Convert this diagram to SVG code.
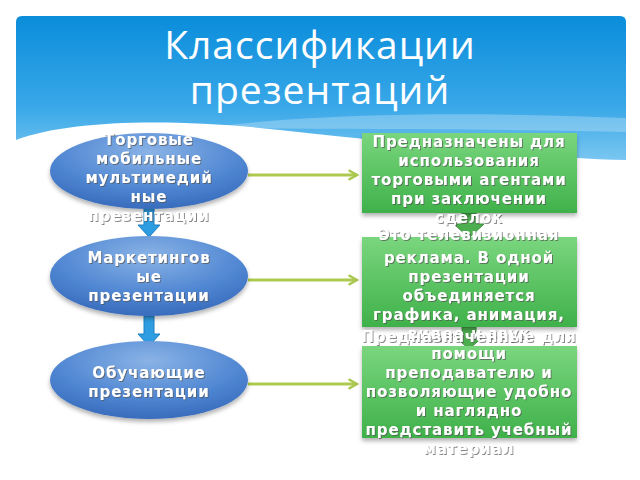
<svg xmlns="http://www.w3.org/2000/svg" width="640" height="480" viewBox="0 0 640 480">
<defs>
<linearGradient id="sky" x1="0" y1="0" x2="0" y2="1">
<stop offset="0" stop-color="#0a8ddb"/>
<stop offset="0.6" stop-color="#3aa8e8"/>
<stop offset="1" stop-color="#86ccf2"/>
</linearGradient>
<radialGradient id="ell" cx="0.5" cy="0.25" r="0.8">
<stop offset="0" stop-color="#8ab3e6"/>
<stop offset="0.6" stop-color="#4f86d2"/>
<stop offset="1" stop-color="#3467b8"/>
</radialGradient>
<linearGradient id="grn" x1="0" y1="0" x2="0" y2="1">
<stop offset="0" stop-color="#7ad67e"/>
<stop offset="1" stop-color="#3fb14a"/>
</linearGradient>
<marker id="ah" viewBox="0 0 10 10" refX="8" refY="5" markerWidth="4" markerHeight="4" orient="auto">
<path d="M1,1 L8,5 L1,9" fill="none" stroke="#a9c74f" stroke-width="2"/>
</marker>
<filter id="sh" x="-20%" y="-20%" width="140%" height="150%">
<feDropShadow dx="0" dy="3" stdDeviation="2" flood-color="#000" flood-opacity="0.3"/>
</filter>
<filter id="ts" x="-10%" y="-30%" width="120%" height="160%">
<feDropShadow dx="1" dy="1" stdDeviation="0.6" flood-color="#555" flood-opacity="0.7"/>
</filter>
</defs>
<style>
.title{font-family:"Open Sans","DejaVu Sans",sans-serif;font-size:39px;fill:#fff;text-anchor:middle;letter-spacing:1px}
.t{font-family:"DejaVu Sans","Noto Sans",sans-serif;font-weight:bold;font-size:15px;fill:#fff;text-anchor:middle;letter-spacing:0.9px}
.con{stroke:#aec94f;stroke-width:3;fill:none}
.barr{fill:#2f9de2;stroke:#1e7fc0;stroke-width:1}
.garr{fill:#4cae4f;stroke:#3c8f3e;stroke-width:1}
</style>
<rect width="640" height="480" fill="#fff"/>
<path d="M22,16 H620 Q626,16 626,22 V170 H16 V22 Q16,16 22,16 Z" fill="url(#sky)"/>
<path d="M200,128 C330,112 480,112 626,118 V132 C480,128 330,130 200,128 Z" fill="#fff" opacity="0.25"/>
<path d="M16,140 C70,120 170,118 280,130 C420,145 540,158 626,160 V175 H16 Z" fill="#fff"/>
<text class="title" x="320" y="59">Классификации</text>
<text class="title" x="320" y="104">презентаций</text>

<g id="connectors">
<line class="con" x1="248" y1="175" x2="357" y2="175" marker-end="url(#ah)"/>
<line class="con" x1="248" y1="280" x2="357" y2="280" marker-end="url(#ah)"/>
<line class="con" x1="248" y1="384" x2="357" y2="384" marker-end="url(#ah)"/>
<path class="barr" d="M144,208 H154 V225 H160 L149,237 L138,225 H144 Z"/>
<path class="barr" d="M144,316 H154 V334 H160 L149,346 L138,334 H144 Z"/>
<path class="garr" d="M462,213 H476 V224 H484 L469,238 L454,224 H462 Z"/>
<path class="garr" d="M462,327 H476 V336 H484 L469,349 L454,336 H462 Z"/>
</g>

<g id="n1">
<ellipse cx="149" cy="171" rx="99" ry="38" fill="url(#ell)" filter="url(#sh)"/>
<g filter="url(#ts)">
<text class="t" x="149" y="145">Торговые</text>
<text class="t" x="149" y="164">мобильные</text>
<text class="t" x="149" y="183">мультимедий</text>
<text class="t" x="149" y="202">ные</text>
<text class="t" x="149" y="221">презентации</text>
</g>
</g>
<g id="n2">
<ellipse cx="149" cy="276" rx="99" ry="40" fill="url(#ell)" filter="url(#sh)"/>
<g filter="url(#ts)">
<text class="t" x="149" y="263">Маркетингов</text>
<text class="t" x="149" y="282">ые</text>
<text class="t" x="149" y="301">презентации</text>
</g>
</g>
<g id="n3">
<ellipse cx="149" cy="380" rx="99" ry="39" fill="url(#ell)" filter="url(#sh)"/>
<g filter="url(#ts)">
<text class="t" x="149" y="378">Обучающие</text>
<text class="t" x="149" y="397">презентации</text>
</g>
</g>

<g id="r1">
<rect x="362" y="133" width="215" height="80" fill="url(#grn)" filter="url(#sh)"/>
<g filter="url(#ts)">
<text class="t" x="469" y="147">Предназначены для</text>
<text class="t" x="469" y="166">использования</text>
<text class="t" x="469" y="185">торговыми агентами</text>
<text class="t" x="469" y="204">при заключении</text>
<text class="t" x="469" y="223">сделок</text>
</g>
</g>
<g id="r2">
<rect x="362" y="237" width="215" height="90" fill="url(#grn)" filter="url(#sh)"/>
<g filter="url(#ts)">
<text class="t" x="469" y="240">Это телевизионная</text>
<text class="t" x="469" y="263">реклама. В одной</text>
<text class="t" x="469" y="282">презентации</text>
<text class="t" x="469" y="301">объединяется</text>
<text class="t" x="469" y="320">графика, анимация,</text>
<text class="t" x="469" y="339">видео и звук</text>
</g>
</g>
<g id="r3">
<rect x="362" y="346" width="215" height="92" fill="url(#grn)" filter="url(#sh)"/>
<g filter="url(#ts)">
<text class="t" x="469" y="342">Предназначенные для</text>
<text class="t" x="469" y="359">помощи</text>
<text class="t" x="469" y="378">преподавателю и</text>
<text class="t" x="469" y="397">позволяющие удобно</text>
<text class="t" x="469" y="416">и наглядно</text>
<text class="t" x="469" y="435">представить учебный</text>
<text class="t" x="469" y="454">материал</text>
</g>
</g>
</svg>
